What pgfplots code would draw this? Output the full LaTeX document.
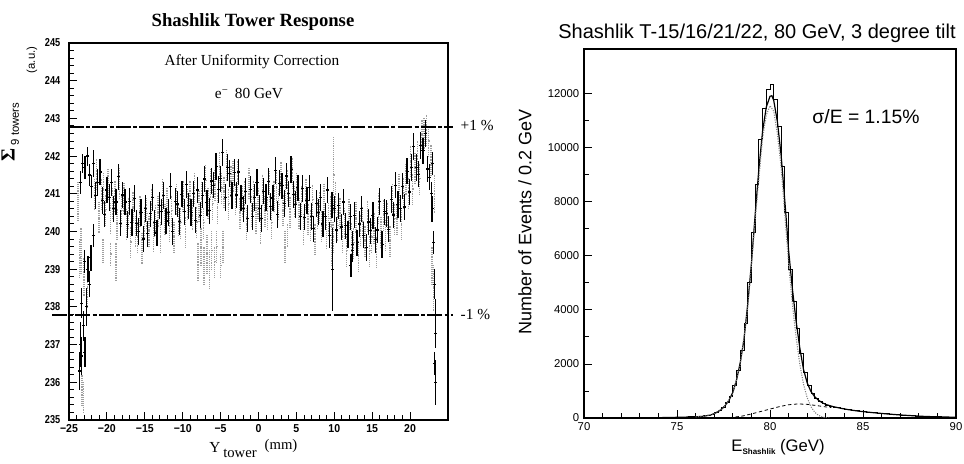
\documentclass[border=0pt]{standalone}
\usepackage{fontspec}
\setmainfont{Liberation Serif}
\newfontfamily\lsans{Liberation Sans}
\newfontfamily\lsnarrow[FakeStretch=0.8]{Liberation Sans}
\newfontfamily\lsmid[FakeStretch=0.92]{Liberation Sans}
\usepackage{pgfplots}
\pgfplotsset{compat=1.18}
\usepackage{pgfplotstable}

\pgfplotstableread{
x y
-21.8 241.80
-21.5 240.95
-21.2 241.30
-20.9 241.58
-20.6 240.82
-20.3 240.46
-20.0 241.10
-19.7 240.90
-19.4 241.30
-19.1 240.60
-18.8 240.78
-18.5 241.45
-18.2 240.22
-17.9 240.97
-17.6 240.78
-17.3 240.19
-17.0 240.80
-16.7 240.24
-16.4 240.88
-16.1 240.22
-15.8 240.00
-15.5 240.50
-15.2 239.80
-14.9 240.61
-14.6 239.94
-14.3 240.47
-14.0 240.90
-13.7 240.23
-13.4 239.96
-13.1 240.69
-12.8 240.52
-12.5 240.95
-12.2 240.28
-11.9 240.50
-11.6 241.20
-11.3 240.00
-11.0 240.80
-10.7 240.73
-10.4 240.26
-10.1 240.99
-9.8 240.52
-9.5 241.25
-9.2 240.68
-8.9 240.50
-8.6 241.00
-8.3 240.30
-8.0 241.10
-7.7 240.43
-7.4 240.96
-7.1 241.39
-6.8 240.76
-6.5 240.55
-6.2 241.34
-5.9 241.23
-5.6 241.72
-5.3 241.11
-5.0 241.40
-4.7 242.10
-4.4 240.90
-4.1 241.70
-3.8 241.54
-3.5 240.95
-3.2 241.56
-2.9 240.97
-2.6 241.58
-2.3 240.89
-2.0 240.60
-1.7 241.07
-1.4 240.34
-1.1 241.11
-0.8 240.40
-0.5 240.90
-0.2 241.30
0.1 240.61
0.4 240.34
0.7 241.07
1.0 240.90
1.3 241.33
1.6 240.66
1.9 240.89
2.2 241.62
2.5 240.45
2.8 241.28
3.1 241.21
3.4 240.74
3.7 241.47
4.0 241.00
4.3 241.64
4.6 240.98
4.9 240.72
5.2 241.16
5.5 240.40
5.8 241.14
6.1 240.38
6.4 240.82
6.7 241.16
7.0 240.40
7.3 240.07
7.6 240.74
7.9 240.51
8.2 240.90
8.5 240.20
8.8 240.40
9.1 241.10
9.4 239.90
9.7 240.70
10.0 240.60
10.3 240.04
10.6 240.68
10.9 240.12
11.2 240.78
11.5 240.15
11.8 239.92
12.1 240.39
12.4 239.66
12.7 240.43
13.0 239.70
13.3 240.20
13.6 240.60
13.9 239.90
14.2 239.58
14.5 240.25
14.8 240.02
15.1 240.42
15.4 239.78
15.7 240.04
16.0 240.80
16.3 239.66
16.6 240.52
16.9 240.48
17.2 240.06
17.5 240.85
17.8 240.44
18.1 241.23
18.4 240.72
18.7 240.61
19.0 241.20
19.3 240.65
19.6 241.60
19.9 241.05
20.2 241.70
20.5 242.25
20.8 241.70
21.1 241.52
21.4 242.28
21.7 242.14
22.0 242.60
22.3 241.66
22.6 241.44
22.9 240.60
}\blackmain

\pgfplotstableread{
x y e
-23.5 241.3 0.3
-23.2 241.8 0.25
-22.9 241.7 0.3
-22.6 242.0 0.25
-22.3 241.5 0.3
-22.0 241.2 0.3
-23.6 236.3 0.5
-23.5 237.0 0.6
-23.3 236.7 0.5
-23.1 237.5 0.4
-22.9 236.8 0.4
-22.7 238.0 0.5
-23.3 238.1 0.4
-22.5 239.0 0.35
-22.3 238.6 0.35
-22.1 239.3 0.35
-23.0 239.2 0.3
-21.8 239.9 0.3
9.8 239.0 1.1
12.2 239.1 0.3
12.4 239.5 0.3
23.0 240.6 0.3
23.1 239.7 0.3
23.2 238.6 0.4
23.3 237.8 0.4
23.35 237.3 0.4
23.25 236.5 0.3
23.4 236.0 0.6
22.8 241.0 0.3
23.0 241.8 0.3
}\blackextra

\pgfplotstableread{
x y
-21.65 240.98
-21.35 241.53
-21.05 240.37
-20.75 241.00
-20.45 241.14
-20.15 240.58
-19.85 241.25
-19.55 240.35
-19.25 240.75
-18.95 240.95
-18.65 240.20
-18.35 241.28
-18.05 240.55
-17.75 240.88
-17.45 240.19
-17.15 240.50
-16.85 239.72
-16.55 240.66
-16.25 240.00
-15.95 239.85
-15.65 240.55
-15.35 239.55
-15.05 240.25
-14.75 240.48
-14.45 240.01
-14.15 240.74
-13.85 239.87
-13.55 240.30
-13.25 240.53
-12.95 239.85
-12.65 240.99
-12.35 240.32
-12.05 240.75
-11.75 240.15
-11.45 240.55
-11.15 239.85
-10.85 240.85
-10.55 240.30
-10.25 240.23
-9.95 240.95
-9.65 239.99
-9.35 240.72
-9.05 240.95
-8.75 240.45
-8.45 241.15
-8.15 240.25
-7.85 240.67
-7.55 240.90
-7.25 240.23
-6.95 241.36
-6.65 240.75
-6.35 241.25
-6.05 240.74
-5.75 241.23
-5.45 240.62
-5.15 241.71
-4.85 241.15
-4.55 241.05
-4.25 241.75
-3.95 240.74
-3.65 241.35
-3.35 241.46
-3.05 240.87
-2.75 241.48
-2.45 240.49
-2.15 240.80
-1.85 240.94
-1.55 240.21
-1.25 241.28
-0.95 240.55
-0.65 240.95
-0.35 240.35
-0.05 240.75
0.25 240.08
0.55 241.11
0.85 240.54
1.15 240.47
1.45 241.20
1.75 240.23
2.05 240.95
2.35 241.19
2.65 240.72
2.95 241.45
3.25 240.58
3.55 241.01
3.85 241.24
4.15 240.52
4.45 241.56
4.75 240.80
5.05 241.14
5.35 240.48
5.65 240.82
5.95 240.06
6.25 241.00
6.55 240.34
6.85 240.18
7.15 240.84
7.45 239.81
7.75 240.48
8.05 240.65
8.35 240.15
8.65 240.85
8.95 239.95
9.25 240.35
9.55 240.55
9.85 239.85
10.15 240.92
10.45 240.16
10.75 240.50
11.05 239.85
11.35 240.22
11.65 239.49
11.95 240.46
12.25 239.83
12.55 239.70
12.85 240.37
13.15 239.35
13.45 240.05
13.75 240.25
14.05 239.75
14.35 240.42
14.65 239.49
14.95 239.85
15.25 240.10
15.55 239.46
15.85 240.62
16.15 239.98
16.45 240.44
16.75 239.90
17.05 240.36
17.35 239.75
17.65 240.85
17.95 240.34
18.25 240.33
18.55 241.12
18.85 240.21
19.15 241.03
19.45 241.38
19.75 241.03
20.05 241.88
20.35 241.13
20.65 241.68
20.95 242.01
21.25 241.40
21.55 242.56
21.85 242.60
22.15 242.70
22.45 242.40
22.75 241.90
}\greymain

\pgfplotstableread{
x y e
-23.8 240.8 0.5
-23.6 239.3 0.5
-23.4 239.5 0.6
-23.0 238.8 0.5
-22.6 238.5 0.5
-23.3 235.8 0.4
-23.1 235.6 0.4
-20.5 239.5 0.3
-19.5 239.4 0.3
-18.8 239.2 0.5
-8.0 239.2 0.5
-7.6 239.6 0.5
-7.2 239.1 0.5
-6.8 239.4 0.5
-6.5 239.0 0.5
-6.2 239.5 0.5
-5.8 239.2 0.4
-5.5 239.6 0.4
-5.0 239.1 0.3
-4.7 239.6 0.4
3.5 239.6 0.4
3.8 239.9 0.3
9.6 239.7 0.6
9.9 241.5 1.0
22.9 239.1 0.5
23.1 238.5 0.6
23.2 241.0 0.5
}\greyextra

\pgfplotstableread{
x y
70.0 2
70.2 1
70.4 3
70.6 2
70.8 4
71.0 3
71.2 5
71.4 4
71.6 6
71.8 5
72.0 7
72.2 6
72.4 8
72.6 9
72.8 8
73.0 10
73.2 12
73.4 11
73.6 14
73.8 15
74.0 17
74.2 19
74.4 22
74.6 24
74.8 27
75.0 30
75.2 34
75.4 38
75.6 44
75.8 50
76.0 58
76.2 68
76.4 80
76.6 105
76.8 150
77.0 210
77.2 290
77.4 400
77.6 560
77.8 800
78.0 1200
78.2 1750
78.4 2500
78.6 3500
78.8 5000
79.0 6850
79.2 8630
79.4 10300
79.6 11470
79.8 12170
80.0 12330
80.2 11800
80.4 10790
80.6 9300
80.8 7590
81.0 5500
81.2 4300
81.4 3300
81.6 2400
81.8 1700
82.0 1200
82.2 900
82.4 720
82.6 620
82.8 550
83.0 480
83.2 440
83.4 410
83.6 380
83.8 355
84.0 330
84.2 310
84.4 290
84.6 270
84.8 250
85.0 235
85.2 220
85.4 207
85.6 195
85.8 183
86.0 170
86.2 155
86.4 143
86.6 132
86.8 122
87.0 112
87.2 102
87.4 93
87.6 85
87.8 77
88.0 69
88.2 62
88.4 56
88.6 50
88.8 45
89.0 41
89.2 37
89.4 34
89.6 31
89.8 28
90.0 28
}\hist

\pgfplotstableread{
x y
70.0 0
72.0 3
74.0 12
75.0 25
75.5 33
76.0 45
76.4 62
76.8 110
77.0 160
77.2 230
77.4 330
77.6 470
77.8 660
78.0 950
78.2 1400
78.4 2050
78.6 2900
78.8 4200
79.0 5700
79.2 7500
79.4 9200
79.6 10600
79.8 11500
80.0 11900
80.1 11920
80.2 11750
80.4 10950
80.6 9700
80.8 8000
81.0 6200
81.2 4800
81.4 3600
81.6 2600
81.8 1800
82.0 1300
82.2 980
82.4 790
82.6 660
82.8 570
83.0 500
83.4 420
83.8 360
84.2 310
84.8 250
85.5 200
86.3 150
87.0 112
88.2 62
89.0 42
90.0 28
}\fitall

\pgfplotstableread{
x y
76.0 40
76.5 70
77.0 160
77.5 380
78.0 890
78.4 1950
78.8 4050
79.2 7300
79.6 10350
79.8 11200
80.0 11550
80.2 11350
80.4 10500
80.6 9250
80.8 7500
81.0 5700
81.2 4250
81.4 3000
81.6 2000
81.8 1250
82.0 750
82.2 420
82.4 220
82.6 100
82.8 40
83.0 10
83.2 0
}\fitgaus

\pgfplotstableread{
x y
77.5 0
78.0 25
78.5 70
79.0 150
79.5 240
80.0 330
80.5 420
81.0 490
81.5 520
82.0 505
82.5 460
83.0 410
83.3 385
}\fitbg

\begin{document}
\begin{tikzpicture}[x=0.75pt,y=0.75pt]
\path[use as bounding box] (0,0) rectangle (964,464);

% ---------------- left panel ----------------
\begin{axis}[
  at={(51.75pt,33pt)}, anchor=south west,
  scale only axis, width=284.25pt, height=282.75pt,
  xmin=-25, xmax=25, ymin=235, ymax=245,
  xtick={-25,-20,-15,-10,-5,0,5,10,15,20},
  xticklabels={−25,−20,−15,−10,−5,0,5,10,15,20},
  ytick={235,236,237,238,239,240,241,242,243,244,245},
  minor x tick num=4, minor y tick num=4,
  tick align=inside, xtick pos=bottom, ytick pos=left,
  major tick length=6pt, minor tick length=3.5pt,
  tick style={black, line width=0.7pt},
  axis line style={line width=1.1pt},
  yticklabel style={font=\lsnarrow\bfseries\fontsize{8.6}{9}\selectfont, xshift=-3pt},
  xticklabel style={font=\lsmid\bfseries\fontsize{8.6}{9}\selectfont},
  /pgf/number format/assume math mode=true,
  clip=false,
]
\addplot[only marks, mark=*, mark size=0pt, mark options={draw=none,fill=none}, error bars/.cd, x dir=both, x fixed=0.2, y dir=both, y fixed=0.4, error mark=none, error bar style={gray!75, densely dotted, line width=1pt}] table[x=x,y=y] {\greymain};
\addplot[only marks, mark=*, mark size=0pt, mark options={draw=none,fill=none}, error bars/.cd, x dir=both, x fixed=0.2, y dir=both, y explicit, error mark=none, error bar style={gray!75, densely dotted, line width=1pt}] table[x=x,y=y,y error=e] {\greyextra};
\addplot[only marks, mark=*, mark size=0pt, mark options={draw=none,fill=none}, error bars/.cd, x dir=both, x fixed=0.2, y dir=both, y fixed=0.35, error mark=none, error bar style={black, line width=0.9pt}] table[x=x,y=y] {\blackmain};
\addplot[only marks, mark=*, mark size=0pt, mark options={draw=none,fill=none}, error bars/.cd, x dir=both, x fixed=0.2, y dir=both, y explicit, error mark=none, error bar style={black, line width=0.9pt}] table[x=x,y=y,y error=e] {\blackextra};
\addplot[black, line width=1.3pt, dash pattern=on 11pt off 1.8pt on 3pt off 1.8pt] coordinates {(-25,242.78) (25.66,242.78)};
\addplot[black, line width=1.3pt, dash pattern=on 11pt off 1.8pt on 3pt off 1.8pt] coordinates {(-27.24,237.78) (25.66,237.78)};
\end{axis}

\node[font=\bfseries\fontsize{14}{16}\selectfont] at (253,442) {Shashlik Tower Response};
\node[font=\fontsize{11.5}{13}\selectfont] at (252,402) {After Uniformity Correction};
\node[font=\fontsize{11.5}{13}\selectfont] at (249,370) {e\textsuperscript{−}\, 80 GeV};
\node[anchor=west, font=\fontsize{11.5}{13}\selectfont] at (456,338) {+1 \%};
\node[anchor=west, font=\fontsize{11.5}{13}\selectfont] at (456,149) {-1 \%};
\node[rotate=90, font=\bfseries\fontsize{15}{16}\selectfont] at (8,309) {Σ};
\node[rotate=90, font=\lsans\fontsize{8.5}{10}\selectfont] at (15,340) {9 towers};
\node[rotate=90, font=\lsans\fontsize{8.5}{10}\selectfont] at (32,404) {(a.u.)};
\node[font=\fontsize{11.5}{13}\selectfont] at (215,17) {Y};
\node[font=\fontsize{11}{13}\selectfont] at (240,11) {tower};
\node[font=\fontsize{11}{13}\selectfont] at (281,18) {(mm)};

% ---------------- right panel ----------------
\begin{axis}[
  at={(438pt,34.5pt)}, anchor=south west,
  scale only axis, width=279pt, height=276.75pt,
  xmin=70, xmax=90, ymin=0, ymax=13650,
  xtick={70,75,80,85,90}, ytick={0,2000,4000,6000,8000,10000,12000},
  minor x tick num=4, minor y tick num=1,
  tick align=inside, xtick pos=bottom, ytick pos=left,
  major tick length=6pt, minor tick length=3.5pt,
  tick style={black, line width=0.6pt},
  axis line style={line width=0.8pt},
  scaled y ticks=false,
  ticklabel style={font=\lsans\fontsize{8.5}{10}\selectfont},
  /pgf/number format/assume math mode=true,
  /pgf/number format/1000 sep={},
]
\addplot[const plot, black, line width=0.6pt] table[x=x,y=y] {\hist};
\addplot[black, line width=0.9pt] table[x=x,y=y] {\fitall};
\addplot[gray, densely dotted, line width=0.8pt] table[x=x,y=y] {\fitgaus};
\addplot[black, dash pattern=on 2.5pt off 2pt, line width=0.6pt] table[x=x,y=y] {\fitbg};
\end{axis}

\node[font=\lsans\fontsize{15}{17}\selectfont] at (757,431) {Shashlik T-15/16/21/22, 80 GeV, 3 degree tilt};
\node[rotate=90, font=\lsans\fontsize{13.5}{15}\selectfont] at (525,242) {Number of Events / 0.2 GeV};
\node[font=\lsans\fontsize{12.5}{14}\selectfont] at (778,17) {E\raisebox{-2.5pt}{\fontsize{6}{7}\selectfont\bfseries Shashlik} (GeV)};
\node[font=\lsans\fontsize{14.5}{16}\selectfont] at (866,347) {σ/E = 1.15\%};
\end{tikzpicture}
\end{document}
